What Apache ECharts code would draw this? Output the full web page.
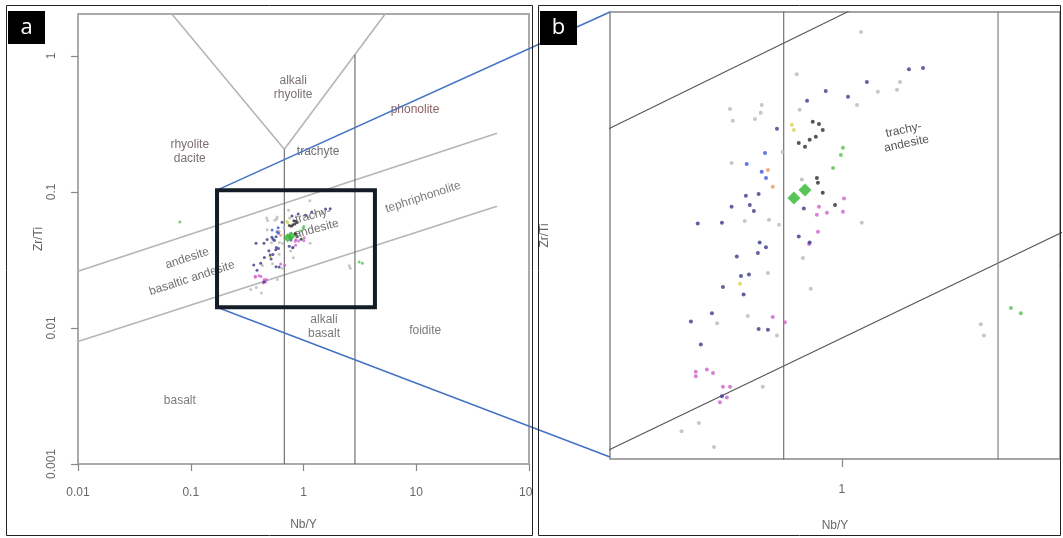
<!DOCTYPE html>
<html><head><meta charset="utf-8">
<script src="https://cdn.jsdelivr.net/npm/echarts@6/dist/echarts.min.js"></script>
<style>html,body{margin:0;padding:0;background:#fff}#c{width:1063px;height:538px}</style>
</head><body><div id="c"></div>
<script>
// ---- Samples: [Nb/Y, Zr/Ti] ----
const navyPts = [[1.570,0.0748],[1.726,0.0751],[1.183,0.0713],[0.897,0.0689],[1.042,0.0674],[0.791,0.0664],[0.646,0.0598],[0.524,0.0465],[0.571,0.0468],[0.538,0.0449],[0.553,0.0439],[0.476,0.0446],[0.446,0.0420],[0.379,0.0419],[0.774,0.0443],[0.748,0.0399],[0.805,0.0390],[0.507,0.0344],[0.535,0.0346],[0.449,0.0330],[0.516,0.0321],[0.417,0.0299],[0.362,0.0290],[0.387,0.0266],[0.446,0.0219],[0.575,0.0390],[0.600,0.0383],[0.493,0.0370],[0.568,0.0375],[0.571,0.0282],[0.608,0.0281]];
const blackPts = [[0.822,0.0614],[0.857,0.0609],[0.879,0.0595],[0.748,0.0567],[0.805,0.0574],[0.780,0.0559],[0.839,0.0580],[0.845,0.0497],[0.851,0.0488],[0.879,0.0470],[0.955,0.0449]];
const bluePts = [[0.583,0.0509],[0.600,0.0497],[0.596,0.0546],[0.527,0.0524]];
const magentaPts = [[0.857,0.0446],[0.904,0.0436],[0.845,0.0433],[1.007,0.0438],[1.014,0.0460],[0.851,0.0406],[0.802,0.0388],[0.374,0.0240],[0.374,0.0236],[0.403,0.0242],[0.420,0.0239],[0.449,0.0227],[0.471,0.0227],[0.461,0.0218],[0.440,0.0214],[0.628,0.0295],[0.681,0.0289]];
const greenPts = [[1.007,0.0557],[0.993,0.0542],[0.942,0.0516],[3.119,0.0305],[3.334,0.0299],[0.080,0.060]];
const yellowPts = [[0.714,0.0607],[0.724,0.0595],[0.504,0.0334]];
const orangePts = [[0.628,0.0481],[0.608,0.0512]];
const grayPts = [[0.738,0.0734],[1.138,0.0860],[1.479,0.0713],[1.449,0.0692],[1.274,0.0687],[1.107,0.0654],[0.583,0.0654],[0.579,0.0635],[0.471,0.0644],[0.480,0.0616],[0.557,0.0620],[0.753,0.0642],[0.671,0.0548],[0.520,0.0423],[0.612,0.0425],[0.655,0.0417],[1.143,0.0420],[0.764,0.0494],[0.476,0.0526],[0.608,0.0348],[0.811,0.0328],[0.432,0.0288],[0.531,0.0296],[0.646,0.0275],[0.587,0.0227],[0.382,0.0198],[0.340,0.0192],[0.423,0.0181],[2.547,0.0287],[2.600,0.0275],[0.769,0.0368]];
const diamondPts = [[0.724,0.0461],[0.780,0.0475]];

// ---- Classification boundaries [Nb/Y, Zr/Ti] ----
const vLeftArm = [[0.068,2.03],[0.676,0.206]];
const vRightArm = [[0.676,0.206],[5.3,2.03]];
const vert1 = [[0.676,0.001],[0.676,0.206]];
const vert2 = [[2.86,0.001],[2.86,1.02]];
const upperDiag = [[0.01,0.0261],[52,0.270]];
const lowerDiag = [[0.01,0.00794],[52,0.0785]];

// ---- Axis extents and tick labels ----
const aX = [0.01, 100], aY = [0.001, 2.03];
const bX = [0.21, 4.34], bY = [0.0173, 0.0927];
const aTicksX = [0.01, 0.1, 1, 10, 100];
const aTicksY = [0.001, 0.01, 0.1, 1];
const bTicksX = [1];
const zoomBoxX = [0.171, 4.3], zoomBoxY = [0.0142, 0.103];

// ---- Field names ----
const fieldsA = [
  {t:'alkali\nrhyolite', p:[0.81,0.58], r:0, c:'#7a7070'},
  {t:'phonolite', p:[9.75,0.40], r:0, c:'#8a6464'},
  {t:'rhyolite\ndacite', p:[0.098,0.196], r:0, c:'#7a7070'},
  {t:'trachyte', p:[1.35,0.196], r:0, c:'#6f6f6f'},
  {t:'tephriphonolite', p:[11.5,0.0914], r:18, c:'#7a7a7a'},
  {t:'trachy-\nandesite', p:[1.26,0.060], r:15, c:'#6f6f6f'},
  {t:'andesite', p:[0.093,0.0325], r:18, c:'#6f6f6f'},
  {t:'basaltic andesite', p:[0.1026,0.0232], r:18, c:'#6f6f6f'},
  {t:'alkali\nbasalt', p:[1.52,0.0103], r:0, c:'#7a7a7a'},
  {t:'foidite', p:[12,0.0096], r:0, c:'#7a7a7a'},
  {t:'basalt', p:[0.080,0.00294], r:0, c:'#7a7a7a'}
];
const fieldsB = [
  {t:'trachy-\nandesite', p:[1.53,0.058], r:12, c:'#555'}
];

const L = Math.log10;
const toLog = arr => arr.map(p => [L(p[0]), L(p[1])]);
const FONT = 'Liberation Sans, Arial, sans-serif';
const fmt = v => String(+Math.pow(10, v).toPrecision(3));

function xAx(g, ext, ticks, tickLen, margin, gap) {
  return {type:'value', gridIndex:g, min:L(ext[0]), max:L(ext[1]),
    axisLine:{show:false, onZero:false},
    axisTick:{show:true, customValues:ticks.map(L), length:tickLen, lineStyle:{color:'#888', width:1.2}},
    axisLabel:{show:true, customValues:ticks.map(L), formatter:fmt, margin:margin, color:'#666', fontSize:12, fontFamily:FONT},
    splitLine:{show:false},
    name:'Nb/Y', nameLocation:'middle', nameGap:gap, nameTextStyle:{color:'#666', fontSize:12, fontFamily:FONT}};
}
function yAx(g, ext, ticks, gap) {
  const has = ticks.length > 0;
  return {type:'value', gridIndex:g, min:L(ext[0]), max:L(ext[1]),
    axisLine:{show:false, onZero:false},
    axisTick:{show:has, customValues:ticks.map(L), length:7, lineStyle:{color:'#888', width:1.2}},
    axisLabel:{show:has, customValues:ticks.map(L), formatter:fmt, rotate:90, margin:20, color:'#666', fontSize:12, fontFamily:FONT},
    splitLine:{show:false},
    name:'Zr/Ti', nameLocation:'middle', nameRotate:90, nameGap:gap, nameTextStyle:{color:'#666', fontSize:12, fontFamily:FONT}};
}

const series = [];
function lineS(g, pts, color, w) {
  series.push({type:'line', xAxisIndex:g, yAxisIndex:g, data:toLog(pts), showSymbol:false, symbol:'none',
    lineStyle:{color:color, width:w}, silent:true, animation:false, clip:true, z:2});
}
[0,1].forEach(g => {
  const light = g === 0 ? '#b5b5b5' : '#555';
  const lw = g === 0 ? 1.6 : 1.1;
  lineS(g, vLeftArm, light, lw);
  lineS(g, vRightArm, light, lw);
  lineS(g, upperDiag, light, lw);
  lineS(g, lowerDiag, light, lw);
  lineS(g, vert1, '#666', 1.1);
  lineS(g, vert2, g === 0 ? '#666' : '#777', 1.1);
});
const groups = [
  [grayPts, '#b8b8b8'], [yellowPts, '#d9d34a'], [orangePts, '#ee9a55'], [greenPts, '#55c255'],
  [magentaPts, '#d060d0'], [bluePts, '#3f55d8'], [navyPts, '#3a3a8a'], [blackPts, '#2a2a2a']
];
[0,1].forEach(g => {
  groups.forEach(([pts, col]) => {
    series.push({type:'scatter', xAxisIndex:g, yAxisIndex:g, data:toLog(pts), symbol:'circle',
      symbolSize: g === 0 ? 3 : 4, itemStyle:{color:col}, silent:true, animation:false, z:3});
  });
  series.push({type:'scatter', xAxisIndex:g, yAxisIndex:g, data:toLog(diamondPts), symbol:'diamond',
    symbolSize: g === 0 ? 9 : 13, itemStyle:{color:'#2fb52f'}, silent:true, animation:false, z:4});
});

const option = {
  backgroundColor:'#fff',
  animation:false,
  grid:[
    {left:78, top:14, width:451, height:450, show:true, borderColor:'#aaa', borderWidth:2, backgroundColor:'transparent'},
    {left:610, top:12, width:450, height:447, show:true, borderColor:'#888', borderWidth:1.5, backgroundColor:'transparent'}
  ],
  xAxis:[xAx(0, aX, aTicksX, 7, 23, 55), xAx(1, bX, bTicksX, 8, 25, 61)],
  yAxis:[yAx(0, aY, aTicksY, 21), yAx(1, bY, [], 59)],
  series:series
};

const chart = echarts.init(document.getElementById('c'), null, {renderer:'canvas'});
chart.setOption(option);

const P = (g, p) => chart.convertToPixel({gridIndex:g}, [L(p[0]), L(p[1])]);
const gfx = [];
// mask: panel a content is clipped at its frame
gfx.push({type:'rect', shape:{x:533, y:470, width:5, height:40}, style:{fill:'#fff'}, z:40});
// panel frames
gfx.push({type:'rect', shape:{x:6.5, y:5.5, width:526, height:530}, style:{fill:'none', stroke:'#222', lineWidth:1}, z:41});
gfx.push({type:'rect', shape:{x:538.5, y:5.5, width:522, height:530}, style:{fill:'none', stroke:'#222', lineWidth:1}, z:41});
function fieldText(g, f) {
  const q = P(g, f.p);
  gfx.push({type:'text', x:q[0], y:q[1], rotation:f.r*Math.PI/180, z:5,
    style:{text:f.t, fill:f.c, font:'12px ' + FONT, align:'center', verticalAlign:'middle', lineHeight:14}});
}
fieldsA.forEach(f => fieldText(0, f));
fieldsB.forEach(f => fieldText(1, f));
// zoom box and connectors
const tl = P(0, [zoomBoxX[0], zoomBoxY[1]]), br = P(0, [zoomBoxX[1], zoomBoxY[0]]);
const btl = P(1, [bX[0], bY[1]]), bbl = P(1, [bX[0], bY[0]]);
gfx.push({type:'line', shape:{x1:tl[0], y1:tl[1], x2:btl[0], y2:btl[1]}, style:{stroke:'#4472c4', lineWidth:1.5}, z:20});
gfx.push({type:'line', shape:{x1:tl[0], y1:br[1], x2:bbl[0], y2:bbl[1]-2}, style:{stroke:'#4472c4', lineWidth:1.5}, z:20});
gfx.push({type:'rect', shape:{x:tl[0], y:tl[1], width:br[0]-tl[0], height:br[1]-tl[1]}, style:{fill:'none', stroke:'#141c26', lineWidth:4}, z:21});
// panel letters
gfx.push({type:'rect', shape:{x:8, y:11, width:37, height:33}, style:{fill:'#000'}, z:42});
gfx.push({type:'text', x:26.5, y:27.5, z:43, style:{text:'a', fill:'#fff', font:'22px Open Sans, Liberation Sans, sans-serif', align:'center', verticalAlign:'middle'}});
gfx.push({type:'rect', shape:{x:540, y:11, width:37, height:34}, style:{fill:'#000'}, z:42});
gfx.push({type:'text', x:558.5, y:27.5, z:43, style:{text:'b', fill:'#fff', font:'22px Open Sans, Liberation Sans, sans-serif', align:'center', verticalAlign:'middle'}});
chart.setOption({graphic:{elements:gfx}});
</script></body></html>
